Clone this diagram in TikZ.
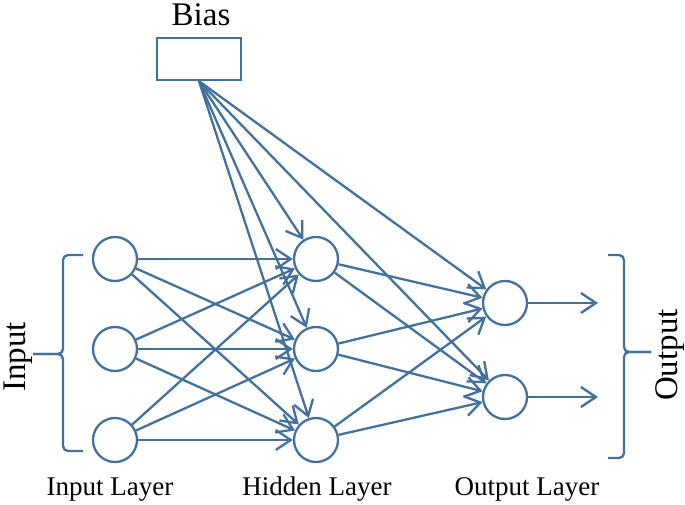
\documentclass[tikz,border=0pt]{standalone}
\usepackage{fontspec}
\setmainfont{Liberation Serif}
\usetikzlibrary{arrows.meta}
\definecolor{nnblue}{RGB}{65,113,156}
\begin{document}
\begin{tikzpicture}[x=1pt,y=-1pt,
  neuron/.style={circle,draw=nnblue,line width=2.3pt,minimum size=44pt,inner sep=0pt},
  biasbox/.style={rectangle,draw=nnblue,line width=2.3pt,minimum width=84pt,minimum height=42pt,inner sep=0pt},
  conn/.style={draw=nnblue,line width=2.3pt,-{Straight Barb[length=15pt,width=20pt,line width=2.3pt]}},
  brack/.style={draw=nnblue,line width=2.3pt,rounded corners=5pt},
  bigtxt/.style={font=\fontsize{33}{38}\selectfont,inner sep=0pt},
  laytxt/.style={font=\fontsize{27}{32}\selectfont,inner sep=0pt,anchor=base}
]
\useasboundingbox (0,0) rectangle (685,505);
% nodes
\node[neuron] (i1) at (115,259) {};
\node[neuron] (i2) at (115,349) {};
\node[neuron] (i3) at (115,440) {};
\node[neuron] (h1) at (316,259) {};
\node[neuron] (h2) at (316,349) {};
\node[neuron] (h3) at (316,440) {};
\node[neuron] (o1) at (505,303) {};
\node[neuron] (o2) at (505,397) {};
\node[biasbox] (bias) at (199,59) {};
\node[bigtxt,anchor=base] (biaslbl) at (201,26) {Bias};
\coordinate (y1) at (598,303);
\coordinate (y2) at (598,397);
% connectors
\foreach \a in {i1,i2,i3}
  \foreach \b in {h1,h2,h3}
    \draw[conn] (\a) -- (\b);
\foreach \a in {h1,h2,h3}
  \foreach \b in {o1,o2}
    \draw[conn] (\a) -- (\b);
\foreach \b in {h1,h2,h3,o1,o2}
  \draw[conn] (bias.south) -- (\b);
\draw[conn] (o1) -- (y1);
\draw[conn] (o2) -- (y2);
% brackets
\coordinate (ib1) at (83,255);
\coordinate (ib2) at (83,451);
\coordinate (it) at (33,354);
\draw[brack] (ib1) -- (63,255) -- (63,354) -- (it);
\draw[brack] (ib2) -- (63,451) -- (63,354) -- (it);
\coordinate (ob1) at (608,255);
\coordinate (ob2) at (608,458);
\coordinate (ot) at (651,352);
\draw[brack] (ob1) -- (624,255) -- (624,352) -- (ot);
\draw[brack] (ob2) -- (624,458) -- (624,352) -- (ot);
% labels
\node[bigtxt,rotate=90] (inlbl) at (18,357) {Input};
\node[bigtxt,rotate=90] (outlbl) at (670,355) {Output};
\node[laytxt] (l1) at (110,495) {Input Layer};
\node[laytxt] (l2) at (317,495) {Hidden Layer};
\node[laytxt] (l3) at (527,495) {Output Layer};
\end{tikzpicture}
\end{document}
